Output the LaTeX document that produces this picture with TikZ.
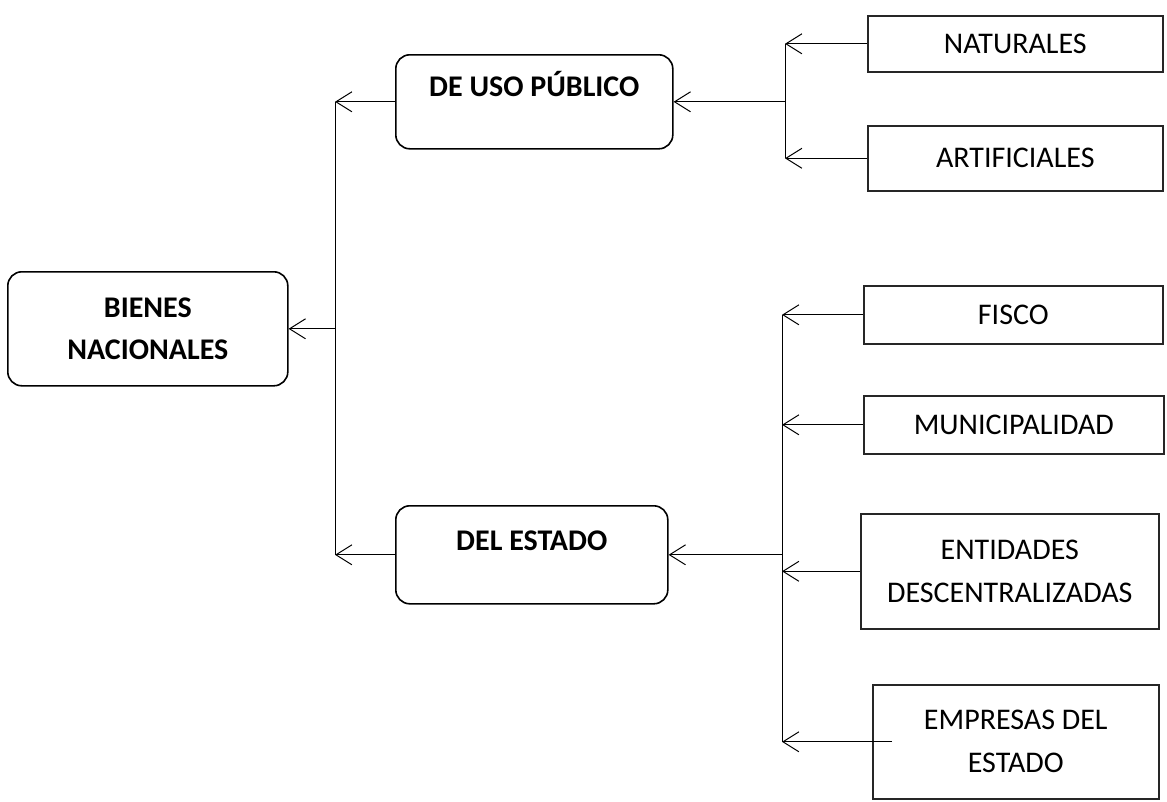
\documentclass[tikz,border=0pt]{standalone}
\usepackage{fontspec}
\setmainfont{Carlito}
\usetikzlibrary{arrows.meta}
\begin{document}
\begin{tikzpicture}[x=1pt,y=-1pt,
  rbox/.style={draw=black,line width=1.6pt,rounded corners=14pt,inner xsep=0pt,inner ysep=0pt,anchor=north west,font=\fontsize{30}{42}\selectfont\bfseries},
  sbox/.style={draw=black!85,line width=1.6pt,inner sep=0pt,anchor=north west,align=center,font=\fontsize{30}{43}\selectfont},
  arr/.style={draw=black,line width=1pt,-{Straight Barb[length=16pt,width=20pt,line width=1pt]}},
  ln/.style={draw=black,line width=1pt}]
\useasboundingbox (0,0) rectangle (1167,801);
% main nodes
\node[rbox,align=center,minimum width=280pt,minimum height=114pt] (bienes) at (7,271) {BIENES\\NACIONALES};
\node[rbox,minimum width=277pt,text height=42pt,text depth=52pt] (deuso) at (395,54) {DE USO PÚBLICO};
\node[rbox,minimum width=272pt,text height=45pt,text depth=53pt] (delest) at (395,505) {DEL ESTADO};
% right boxes
\node[sbox,minimum width=295pt,minimum height=56pt] (nat) at (867,15) {NATURALES};
\node[sbox,minimum width=295pt,minimum height=65pt] (art) at (867,125) {ARTIFICIALES};
\node[sbox,minimum width=299pt,minimum height=58pt] (fisco) at (863,285) {FISCO};
\node[sbox,minimum width=300pt,minimum height=58pt] (muni) at (863,395) {MUNICIPALIDAD};
\node[sbox,minimum width=298pt,minimum height=115pt] (ent) at (860,513) {ENTIDADES\\DESCENTRALIZADAS};
\node[sbox,minimum width=286pt,minimum height=114pt] (emp) at (872,684) {EMPRESAS DEL\\ESTADO};
% bus coordinates
\coordinate (vl) at (335,0);
\coordinate (vu) at (785,0);
\coordinate (vd) at (782,0);
% upper right group
\draw[arr] (nat.west) -- (nat.west -| vu);
\draw[arr] (art.west) -- (art.west -| vu);
\draw[ln] (nat.west -| vu) -- (art.west -| vu);
\draw[arr] (deuso.east -| vu) -- (deuso.east);
% lower right group
\draw[arr] (fisco.west) -- (fisco.west -| vd);
\draw[arr] (muni.west) -- (muni.west -| vd);
\draw[arr] (ent.west) -- (ent.west -| vd);
\draw[arr] ([xshift=20pt]emp.west) -- (emp.west -| vd);
\draw[ln] (fisco.west -| vd) -- (emp.west -| vd);
\draw[arr] (delest.east -| vd) -- (delest.east);
% left group
\draw[arr] (deuso.west) -- (deuso.west -| vl);
\draw[arr] (delest.west) -- (delest.west -| vl);
\draw[ln] (deuso.west -| vl) -- (delest.west -| vl);
\draw[arr] (bienes.east -| vl) -- (bienes.east);
\end{tikzpicture}
\end{document}
